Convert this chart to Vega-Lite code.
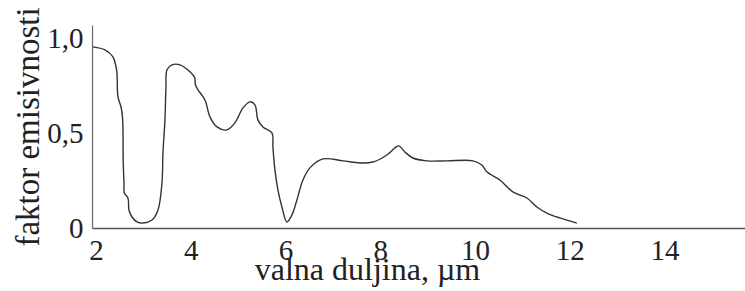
{
  "$schema": "https://vega.github.io/schema/vega-lite/v6.json",
  "width": 653,
  "height": 203,
  "autosize": "none",
  "padding": {"left": 92, "top": 25, "right": 0, "bottom": 63},
  "background": "white",
  "config": {"view": {"stroke": null}},
  "data": {"values": [
    {"w": 1.938, "e": 0.955},
    {"w": 2.191, "e": 0.939},
    {"w": 2.360, "e": 0.902},
    {"w": 2.423, "e": 0.850},
    {"w": 2.444, "e": 0.818},
    {"w": 2.465, "e": 0.691},
    {"w": 2.529, "e": 0.639},
    {"w": 2.560, "e": 0.586},
    {"w": 2.571, "e": 0.517},
    {"w": 2.575, "e": 0.359},
    {"w": 2.592, "e": 0.237},
    {"w": 2.600, "e": 0.185},
    {"w": 2.676, "e": 0.158},
    {"w": 2.697, "e": 0.095},
    {"w": 2.761, "e": 0.058},
    {"w": 2.866, "e": 0.032},
    {"w": 2.993, "e": 0.026},
    {"w": 3.183, "e": 0.042},
    {"w": 3.310, "e": 0.095},
    {"w": 3.394, "e": 0.237},
    {"w": 3.415, "e": 0.396},
    {"w": 3.457, "e": 0.570},
    {"w": 3.478, "e": 0.744},
    {"w": 3.500, "e": 0.834},
    {"w": 3.605, "e": 0.860},
    {"w": 3.774, "e": 0.860},
    {"w": 3.985, "e": 0.823},
    {"w": 4.085, "e": 0.792},
    {"w": 4.100, "e": 0.755},
    {"w": 4.154, "e": 0.728},
    {"w": 4.301, "e": 0.675},
    {"w": 4.407, "e": 0.586},
    {"w": 4.555, "e": 0.533},
    {"w": 4.766, "e": 0.517},
    {"w": 4.934, "e": 0.554},
    {"w": 5.103, "e": 0.633},
    {"w": 5.251, "e": 0.665},
    {"w": 5.356, "e": 0.649},
    {"w": 5.419, "e": 0.570},
    {"w": 5.525, "e": 0.533},
    {"w": 5.715, "e": 0.501},
    {"w": 5.736, "e": 0.427},
    {"w": 5.778, "e": 0.306},
    {"w": 5.841, "e": 0.201},
    {"w": 5.926, "e": 0.111},
    {"w": 6.031, "e": 0.032},
    {"w": 6.137, "e": 0.069},
    {"w": 6.242, "e": 0.148},
    {"w": 6.369, "e": 0.253},
    {"w": 6.517, "e": 0.317},
    {"w": 6.791, "e": 0.364},
    {"w": 7.213, "e": 0.354},
    {"w": 7.572, "e": 0.343},
    {"w": 7.846, "e": 0.348},
    {"w": 8.141, "e": 0.385},
    {"w": 8.310, "e": 0.422},
    {"w": 8.395, "e": 0.433},
    {"w": 8.521, "e": 0.401},
    {"w": 8.690, "e": 0.369},
    {"w": 8.985, "e": 0.354},
    {"w": 9.407, "e": 0.354},
    {"w": 9.956, "e": 0.354},
    {"w": 10.146, "e": 0.332},
    {"w": 10.251, "e": 0.296},
    {"w": 10.526, "e": 0.253},
    {"w": 10.800, "e": 0.190},
    {"w": 11.096, "e": 0.158},
    {"w": 11.307, "e": 0.111},
    {"w": 11.518, "e": 0.079},
    {"w": 11.792, "e": 0.053},
    {"w": 12.151, "e": 0.026}
  ]},
  "mark": {"type": "line", "interpolate": "catmull-rom", "color": "#333333", "strokeWidth": 1.4},
  "encoding": {
    "x": {
      "field": "w", "type": "quantitative",
      "scale": {"domain": [1.917, 15.70], "nice": false, "zero": false},
      "axis": {
        "values": [2, 4, 6, 8, 10, 12, 14],
        "title": "valna duljina, µm",
        "grid": false, "ticks": false,
        "domainColor": "#555555", "domainWidth": 1.5,
        "labelFont": "Liberation Serif", "labelFontSize": 29, "labelColor": "#222222",
        "labelBaseline": "alphabetic", "labelPadding": 31, "labelFlush": false,
        "titleFont": "Liberation Serif", "titleFontSize": 32, "titleFontWeight": "normal", "titleColor": "#222222",
        "titleBaseline": "alphabetic", "titleAlign": "center", "titleX": 275, "titleY": 51
      }
    },
    "y": {
      "field": "e", "type": "quantitative",
      "scale": {"domain": [0, 1.07], "nice": false},
      "axis": {
        "values": [0, 0.5, 1],
        "labelExpr": "datum.value == 0 ? '0' : replace(format(datum.value, '.1f'), '.', ',')",
        "title": "faktor emisivnosti",
        "grid": false, "ticks": false,
        "domainColor": "#666666", "domainWidth": 1.2,
        "labelFont": "Liberation Serif", "labelFontSize": 29, "labelColor": "#222222",
        "labelBaseline": "middle", "labelAlign": "right", "labelPadding": 9, "labelFlush": false,
        "titleFont": "Liberation Serif", "titleFontSize": 33, "titleFontWeight": "normal", "titleColor": "#222222",
        "titleBaseline": "alphabetic", "titleAlign": "center", "titleAngle": -90, "titleX": -54, "titleY": 101.5
      }
    }
  }
}
